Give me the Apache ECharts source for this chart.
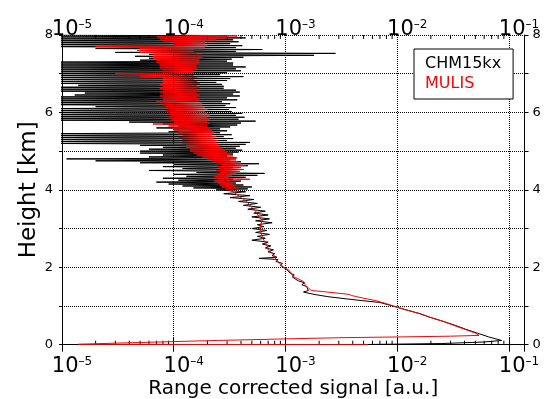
<!DOCTYPE html>
<html><head><meta charset="utf-8">
<script src="https://cdn.jsdelivr.net/npm/echarts@6/dist/echarts.min.js"></script>
<style>html,body{margin:0;padding:0;background:#fff}#chart{width:548px;height:399px}</style>
</head><body><div id="chart"></div>
<script>
// ---- CHM15kx profile (black): height [km], range corrected signal [a.u.]
const chmHeight = [
0.00,0.03,0.07,0.11,0.20,0.30,0.40,0.50,0.60,0.70,
0.80,0.90,0.96,1.02,1.09,1.14,1.18,1.24,1.30,1.36,
1.40,1.44,1.50,1.55,1.60,1.65,1.70,1.75,1.80,1.85,
1.90,1.95,2.00,2.05,2.10,2.15,2.20,2.23,2.26,2.30,
2.35,2.40,2.45,2.50,2.55,2.60,2.65,2.70,2.75,2.80,
2.85,2.90,2.95,3.00,3.05,3.10,3.15,3.20,3.25,3.30,
3.35,3.40,3.45,3.50,3.55,3.60,3.65,3.70,3.75,3.80,
3.85,3.90,3.95,4.00,4.025,4.05,4.075,4.10,4.125,4.15,
4.175,4.20,4.225,4.25,4.275,4.30,4.325,4.35,4.375,4.40,
4.425,4.45,4.475,4.50,4.525,4.55,4.575,4.60,4.625,4.65,
4.675,4.70,4.725,4.75,4.775,4.80,4.825,4.85,4.875,4.90,
4.925,4.95,4.975,5.00,5.025,5.05,5.075,5.10,5.125,5.15,
5.175,5.20,5.225,5.25,5.275,5.30,5.325,5.35,5.375,5.40,
5.425,5.45,5.475,5.50,5.525,5.55,5.575,5.60,5.625,5.65,
5.675,5.70,5.725,5.75,5.775,5.80,5.825,5.85,5.875,5.90,
5.925,5.95,5.975,6.00,6.025,6.05,6.075,6.10,6.125,6.15,
6.175,6.20,6.225,6.25,6.275,6.30,6.325,6.35,6.375,6.40,
6.425,6.45,6.475,6.50,6.525,6.55,6.575,6.60,6.625,6.65,
6.675,6.70,6.725,6.75,6.775,6.80,6.825,6.85,6.875,6.90,
6.925,6.95,6.975,7.00,7.025,7.05,7.075,7.10,7.125,7.15,
7.175,7.20,7.225,7.25,7.275,7.30,7.325,7.35,7.375,7.40,
7.425,7.45,7.475,7.50,7.525,7.55,7.575,7.60,7.625,7.65,
7.675,7.70,7.725,7.75,7.775,7.80,7.825,7.85,7.875,7.90,
7.925,7.95,7.975,8.00
];
const chmSignal = [
4.0e-3,2.5e-2,6.0e-2,8.6e-2,6.6e-2,5.2e-2,4.1e-2,3.3e-2,2.6e-2,2.0e-2,
1.6e-2,1.2e-2,1.02e-2,8.6e-3,7.0e-3,4.8e-3,3.6e-3,2.4e-3,1.8e-3,1.45e-3,
1.6e-3,1.62e-3,1.55e-3,1.40e-3,1.48e-3,1.30e-3,1.32e-3,1.15e-3,1.20e-3,1.10e-3,
1.12e-3,1.02e-3,1.05e-3,9.0e-4,9.4e-4,8.2e-4,8.6e-4,5.8e-4,8.4e-4,7.6e-4,
8.0e-4,7.0e-4,7.8e-4,6.6e-4,7.4e-4,6.2e-4,7.0e-4,5.0e-4,6.6e-4,5.6e-4,
7.2e-4,5.4e-4,6.8e-4,5.0e-4,6.4e-4,5.6e-4,7.6e-4,5.4e-4,7.2e-4,5.0e-4,
7.0e-4,5.2e-4,6.6e-4,4.6e-4,6.0e-4,4.2e-4,5.6e-4,3.8e-4,5.2e-4,3.2e-4,
4.8e-4,2.8e-4,4.4e-4,2.4e-4,4.6e-4,1.5e-4,5.0e-4,1.2e-4,4.2e-4,9.0e-5,
3.6e-4,7.0e-5,4.0e-4,1.1e-4,3.4e-4,8.0e-5,4.4e-4,1.3e-4,5.6e-4,1.0e-4,
6.5e-4,1.6e-4,3.8e-4,6.0e-5,4.2e-4,1.2e-4,3.4e-4,8.0e-5,4.6e-4,1.0e-4,
5.8e-4,5.0e-5,4.0e-4,2.0e-5,3.2e-4,1.1e-5,3.6e-4,6.0e-5,3.0e-4,8.0e-5,
3.4e-4,5.0e-5,3.8e-4,5.0e-5,4.1e-4,6.0e-5,3.6e-4,8.0e-5,3.9e-4,5.0e-5,
4.4e-4,6.0e-6,4.8e-4,8.0e-6,3.0e-4,5.0e-6,3.4e-4,9.0e-6,2.8e-4,5.0e-6,
3.3e-4,7.0e-6,2.6e-4,9.0e-5,3.0e-4,1.0e-4,2.6e-4,7.0e-5,3.2e-4,1.1e-4,
3.7e-4,8.0e-5,4.0e-4,4.0e-5,5.4e-4,6.0e-6,3.8e-4,5.0e-6,4.3e-4,8.0e-6,
3.6e-4,5.0e-6,4.1e-4,6.0e-6,3.3e-4,5.0e-6,3.1e-4,8.0e-6,3.6e-4,2.0e-5,
2.9e-4,6.0e-6,3.2e-4,5.0e-6,2.7e-4,7.0e-6,3.7e-4,6.0e-6,3.0e-4,5.0e-6,
3.9e-4,1.3e-5,3.4e-4,1.6e-5,3.9e-4,5.0e-6,3.6e-4,6.0e-6,2.8e-4,5.0e-6,
2.8e-4,1.4e-5,2.7e-4,6.0e-6,2.4e-4,8.0e-6,3.0e-4,5.0e-6,3.2e-4,6.0e-6,
4.2e-4,5.0e-6,2.6e-4,6.0e-6,3.0e-4,5.0e-6,4.0e-4,7.0e-6,3.6e-4,5.0e-6,
4.4e-4,6.0e-6,3.4e-4,5.0e-6,3.4e-4,6.0e-6,3.0e-4,5.0e-5,3.3e-4,6.0e-5,
4.2e-4,4.5e-5,1.8e-3,6.0e-5,2.8e-3,3.0e-5,3.6e-4,5.0e-5,6.2e-4,2.0e-5,
3.6e-4,6.0e-6,4.1e-4,5.0e-6,3.2e-4,6.0e-6,3.8e-4,5.0e-6,3.4e-4,6.0e-6,
4.4e-4,5.0e-6,3.0e-4,6.0e-6
];
// ---- MULIS profile (red)
const mulisHeight = [
0.00,0.01,0.04,0.08,0.11,0.15,0.18,0.20,0.22,0.24,
0.30,0.40,0.50,0.60,0.70,0.80,0.90,0.96,1.02,1.07,
1.14,1.20,1.25,1.27,1.30,1.33,1.37,1.40,1.45,1.50,
1.55,1.63,1.70,1.76,1.85,1.93,2.00,2.10,2.20,2.30,
2.36,2.45,2.58,2.70,2.79,2.90,3.01,3.10,3.22,3.30,
3.35,3.45,3.52,3.60,3.70,3.76,3.82,3.90,3.95,4.00,
4.025,4.05,4.075,4.10,4.125,4.15,4.175,4.20,4.225,4.25,
4.275,4.30,4.325,4.35,4.375,4.40,4.425,4.45,4.475,4.50,
4.525,4.55,4.575,4.60,4.625,4.65,4.675,4.70,4.725,4.75,
4.775,4.80,4.825,4.85,4.875,4.90,4.925,4.95,4.975,5.00,
5.025,5.05,5.075,5.10,5.125,5.15,5.175,5.20,5.225,5.25,
5.275,5.30,5.325,5.35,5.375,5.40,5.425,5.45,5.475,5.50,
5.525,5.55,5.575,5.60,5.625,5.65,5.675,5.70,5.725,5.75,
5.775,5.80,5.825,5.85,5.875,5.90,5.925,5.95,5.975,6.00,
6.025,6.05,6.075,6.10,6.125,6.15,6.175,6.20,6.225,6.25,
6.275,6.30,6.325,6.35,6.375,6.40,6.425,6.45,6.475,6.50,
6.525,6.55,6.575,6.60,6.625,6.65,6.675,6.70,6.725,6.75,
6.775,6.80,6.825,6.85,6.875,6.90,6.925,6.95,6.975,7.00,
7.025,7.05,7.075,7.10,7.125,7.15,7.175,7.20,7.225,7.25,
7.275,7.30,7.325,7.35,7.375,7.40,7.425,7.45,7.475,7.50,
7.525,7.55,7.575,7.60,7.625,7.65,7.675,7.70,7.725,7.75,
7.775,7.80,7.825,7.85,7.875,7.90,7.925,7.95,7.975,8.00
];
const mulisSignal = [
5.5e-3,1.4e-5,3.0e-5,1.0e-4,2.5e-4,1.0e-3,3.0e-3,1.0e-2,3.0e-2,5.4e-2,
5.0e-2,4.0e-2,3.2e-2,2.6e-2,2.0e-2,1.6e-2,1.2e-2,1.02e-2,8.8e-3,7.8e-3,
6.4e-3,5.0e-3,4.2e-3,3.9e-3,3.7e-3,3.6e-3,2.2e-3,1.7e-3,1.62e-3,1.56e-3,
1.50e-3,1.45e-3,1.30e-3,1.17e-3,1.12e-3,1.07e-3,9.6e-4,8.9e-4,8.2e-4,7.9e-4,
7.6e-4,7.0e-4,6.8e-4,6.4e-4,6.2e-4,6.0e-4,5.9e-4,6.0e-4,6.2e-4,5.8e-4,
5.75e-4,5.4e-4,5.1e-4,4.8e-4,4.5e-4,4.2e-4,3.9e-4,3.6e-4,3.4e-4,3.3e-4,
2.9e-4,3.8e-4,2.7e-4,3.6e-4,2.6e-4,3.4e-4,2.5e-4,3.2e-4,2.3e-4,3.0e-4,
4.8e-4,2.4e-4,3.1e-4,2.3e-4,3.3e-4,2.5e-4,3.6e-4,2.6e-4,3.9e-4,2.4e-4,
4.2e-4,2.6e-4,4.0e-4,2.5e-4,4.4e-4,2.7e-4,4.0e-4,2.4e-4,3.8e-4,2.2e-4,
3.6e-4,2.0e-4,3.7e-4,1.8e-4,3.4e-4,1.6e-4,3.2e-4,1.5e-4,3.0e-4,1.4e-4,
2.9e-4,1.4e-4,2.7e-4,1.3e-4,2.6e-4,1.3e-4,2.5e-4,1.2e-4,2.4e-4,1.2e-4,
2.5e-4,1.2e-4,2.3e-4,1.1e-4,2.4e-4,1.2e-4,2.2e-4,1.1e-4,2.3e-4,1.1e-4,
2.2e-4,1.0e-4,2.1e-4,1.0e-4,2.0e-4,9.0e-5,2.0e-4,6.5e-5,2.1e-4,1.0e-4,
2.0e-4,9.5e-5,2.1e-4,9.0e-5,2.0e-4,9.5e-5,2.1e-4,9.0e-5,2.0e-4,9.0e-5,
1.9e-4,8.5e-5,2.0e-4,9.0e-5,1.9e-4,8.5e-5,1.8e-4,8.0e-5,1.8e-4,8.5e-5,
7.0e-5,1.7e-4,8.0e-5,1.7e-4,8.0e-5,1.6e-4,7.5e-5,1.7e-4,8.0e-5,1.6e-4,
7.5e-5,1.7e-4,8.0e-5,1.6e-4,7.5e-5,1.7e-4,8.0e-5,1.6e-4,7.5e-5,1.7e-4,
8.0e-5,1.6e-4,8.0e-5,1.5e-4,8.0e-5,1.6e-4,5.0e-5,1.5e-4,8.0e-5,3.0e-5,
1.5e-4,8.0e-5,1.5e-4,8.0e-5,1.6e-4,7.5e-5,1.6e-4,7.5e-5,1.6e-4,7.5e-5,
1.7e-4,7.0e-5,1.7e-4,7.0e-5,1.7e-4,6.5e-5,1.8e-4,6.5e-5,1.8e-4,6.5e-5,
1.6e-4,5.0e-5,1.5e-4,4.7e-5,1.5e-4,5.0e-5,1.9e-4,2.0e-5,2.0e-4,1.0e-4,
1.9e-4,1.0e-4,1.9e-4,8.0e-5,2.4e-4,7.5e-5,3.0e-4,7.0e-5,3.7e-4,1.2e-4
];
// ---- axes
const seriesNames = ['CHM15kx', 'MULIS'];
const xMin = 1e-5, xMax = 0.1377;
const yMin = 0, yMax = 8, yStep = 1;
const yLabelValues = [0, 2, 4, 6, 8];
const minorTickValues = [
2e-5,3e-5,4e-5,5e-5,6e-5,7e-5,8e-5,9e-5,
2e-4,3e-4,4e-4,5e-4,6e-4,7e-4,8e-4,9e-4,
2e-3,3e-3,4e-3,5e-3,6e-3,7e-3,8e-3,9e-3,
2e-2,3e-2,4e-2,5e-2,6e-2,7e-2,8e-2,9e-2
];

const FONT = 'DejaVu Sans';
function decadeLabel(v) {
  const e = Math.log10(v);
  if (Math.abs(e - Math.round(e)) > 1e-6) return '';
  const n = Math.round(e);
  return '{b|10}{s|' + (n < 0 ? '\u2013' : '') + Math.abs(n) + '}';
}
const richX = {
  b: { fontSize: 21, fontFamily: FONT, color: '#000', lineHeight: 22, padding: [0, 0, 0, 20] },
  s: { fontSize: 12, fontFamily: FONT, color: '#000', lineHeight: 10, verticalAlign: 'top' }
};
const yLabelFmt = v => (yLabelValues.indexOf(v) >= 0 ? String(v) : '');

const chart = echarts.init(document.getElementById('chart'), null, { renderer: 'canvas' });
const axisLine = { show: true, lineStyle: { color: '#000', width: 1 } };
const dotted = { show: true, lineStyle: { color: '#000', width: 1, type: [1, 1] } };

chart.setOption({
  animation: false,
  backgroundColor: '#fff',
  grid: { left: 62, right: 23.5, top: 35, bottom: 54.3, containLabel: false, outerBoundsMode: 'none' },
  legend: {
    orient: 'vertical', left: 414, top: 49,
    padding: [7, 12, 7, 6], itemGap: 4,
    itemWidth: 0, itemHeight: 0, icon: 'rect',
    borderColor: '#000', borderWidth: 1, backgroundColor: '#fff',
    selectedMode: false,
    textStyle: { fontSize: 16, fontFamily: FONT, lineHeight: 16 },
    data: [
      { name: seriesNames[0], textStyle: { color: '#000' } },
      { name: seriesNames[1], textStyle: { color: '#ff0000' } }
    ]
  },
  xAxis: [
    {
      type: 'log', logBase: 10, min: xMin, max: xMax, position: 'bottom',
      axisLine, axisTick: { show: true, inside: true, length: 7, lineStyle: { color: '#000' } },
      axisLabel: { formatter: decadeLabel, rich: richX, margin: 11, hideOverlap: false, showMinLabel: true, showMaxLabel: true },
      splitLine: dotted,
      name: 'Range corrected signal [a.u.]', nameLocation: 'middle', nameGap: 34, nameMoveOverlap: false,
      nameTextStyle: { fontSize: 20, fontFamily: FONT, color: '#000' }
    },
    {
      type: 'log', logBase: 10, min: xMin, max: xMax, position: 'top',
      axisLine, axisTick: { show: true, inside: true, length: 7, lineStyle: { color: '#000' } },
      axisLabel: { formatter: decadeLabel, rich: richX, margin: -6, hideOverlap: false, showMinLabel: true, showMaxLabel: true },
      splitLine: { show: false }
    }
  ],
  yAxis: [
    {
      type: 'value', min: yMin, max: yMax, interval: yStep, position: 'left',
      axisLine, axisTick: { show: true, inside: false, length: 3, lineStyle: { color: '#000' } },
      axisLabel: { formatter: yLabelFmt, fontSize: 13, fontFamily: FONT, color: '#000', margin: 9 },
      splitLine: dotted,
      name: 'Height [km]', nameLocation: 'middle', nameGap: 21, nameMoveOverlap: false,
      nameTextStyle: { fontSize: 23, fontFamily: FONT, color: '#000' }
    },
    {
      type: 'value', min: yMin, max: yMax, interval: yStep, position: 'right',
      axisLine, axisTick: { show: true, inside: false, length: 4, lineStyle: { color: '#000' } },
      axisLabel: { formatter: yLabelFmt, fontSize: 13, fontFamily: FONT, color: '#000', margin: 8 },
      splitLine: { show: false }
    }
  ],
  series: [
    {
      name: seriesNames[0], type: 'line', xAxisIndex: 0, yAxisIndex: 0,
      data: chmHeight.map((h, i) => [chmSignal[i], h]),
      symbol: 'none', clip: true, silent: true,
      lineStyle: { color: '#000', width: 1 }, itemStyle: { color: '#000' }
    },
    {
      name: seriesNames[1], type: 'line', xAxisIndex: 0, yAxisIndex: 0,
      data: mulisHeight.map((h, i) => [mulisSignal[i], h]),
      symbol: 'none', clip: true, silent: true,
      lineStyle: { color: '#ff0000', width: 1 }, itemStyle: { color: '#ff0000' }
    },
    {
      name: 'minorTicks', type: 'custom', xAxisIndex: 0, yAxisIndex: 0, silent: true,
      data: minorTickValues.map(v => [v, yMin]),
      renderItem: (params, api) => {
        const pb = api.coord([api.value(0), yMin]);
        const pt = api.coord([api.value(0), yMax]);
        return { type: 'group', children: [
          { type: 'line', shape: { x1: pb[0], y1: pb[1], x2: pb[0], y2: pb[1] - 4 }, style: { stroke: '#000', lineWidth: 1 } },
          { type: 'line', shape: { x1: pt[0], y1: pt[1], x2: pt[0], y2: pt[1] + 4 }, style: { stroke: '#000', lineWidth: 1 } }
        ] };
      }
    }
  ]
});
</script></body></html>
